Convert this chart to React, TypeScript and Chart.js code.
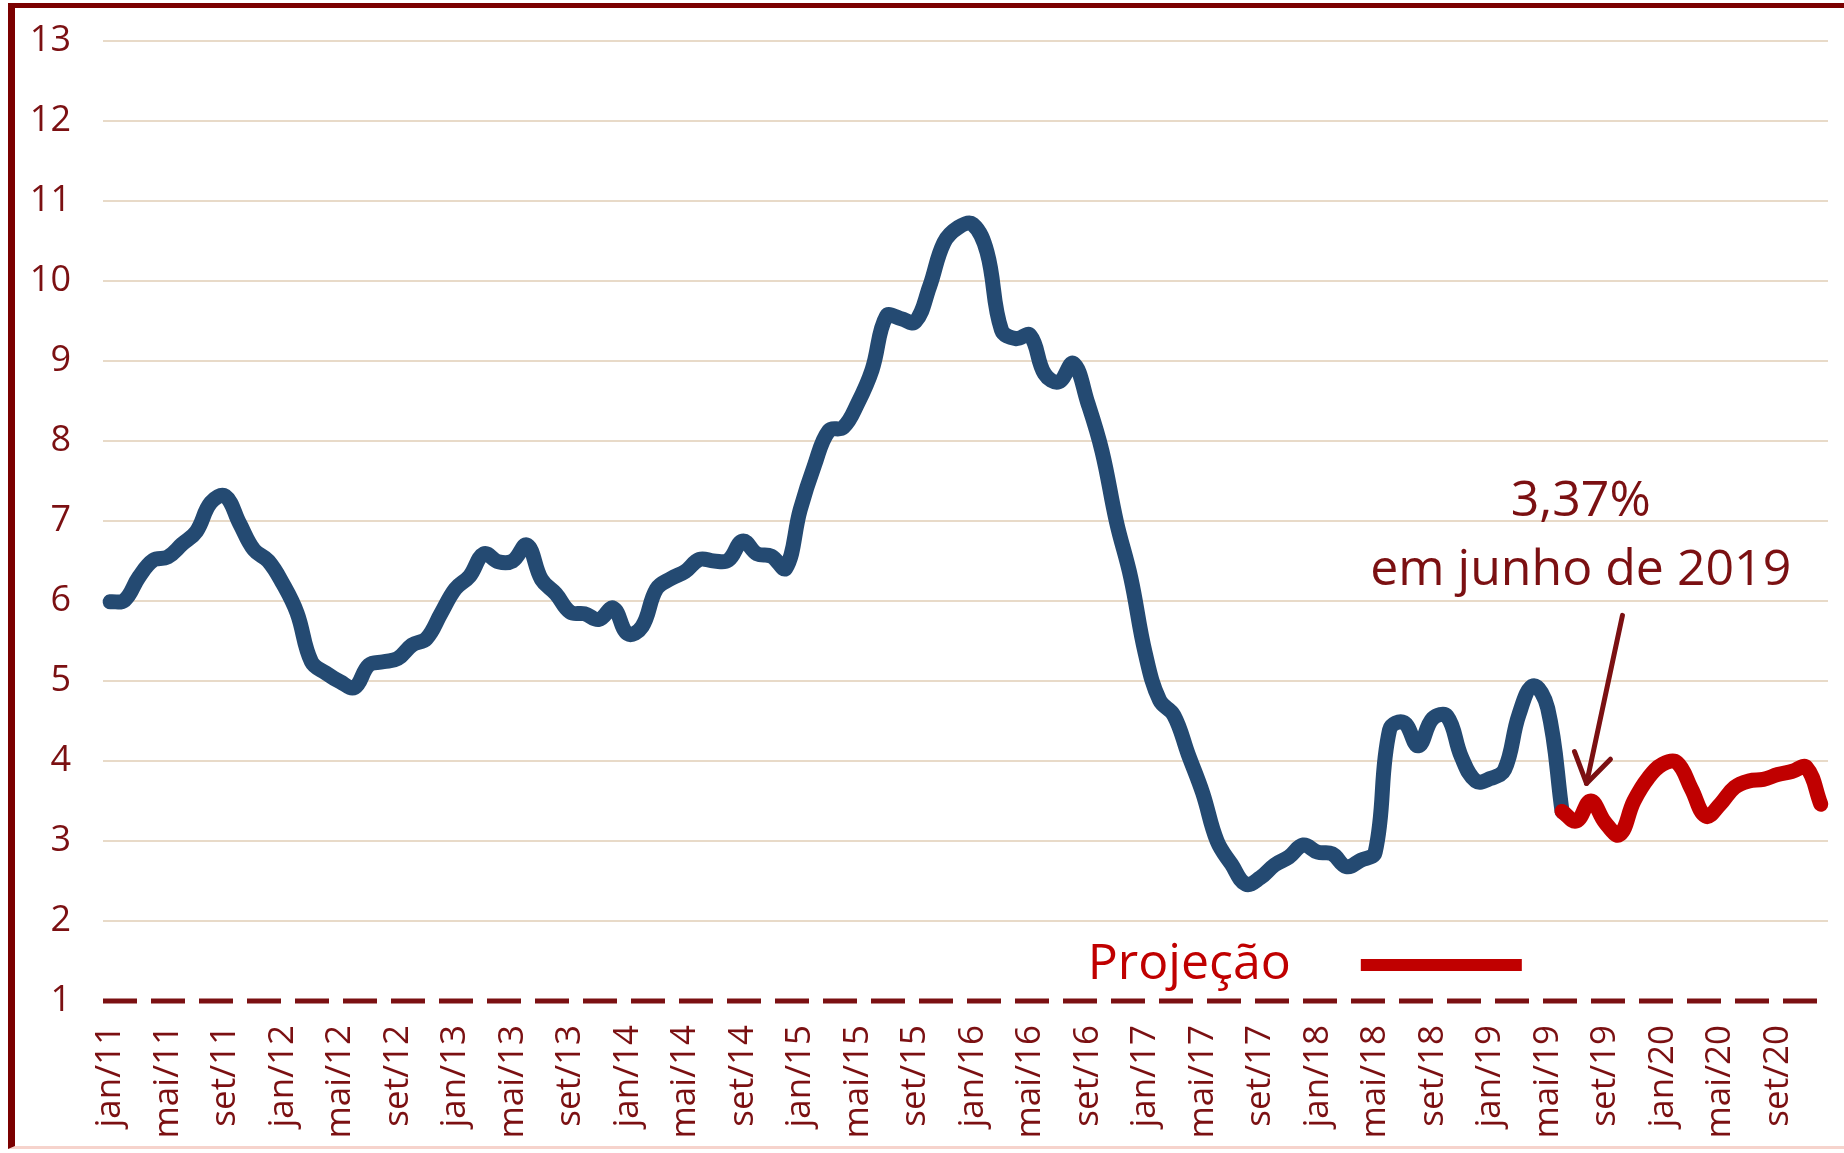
import React, { useEffect, useRef } from "react";
import { Chart, registerables } from "chart.js";

Chart.register(...registerables);

// ---- Data ----
const monthNames = ["jan", "fev", "mar", "abr", "mai", "jun", "jul", "ago", "set", "out", "nov", "dez"];
const yearSuffixes = ["11", "12", "13", "14", "15", "16", "17", "18", "19", "20"];
const categories = yearSuffixes.flatMap((y) => monthNames.map((m) => `${m}/${y}`));

// IPCA acumulado em 12 meses (%), jan/11 - jun/19
const observed = [
  5.99, 6.01, 6.30, 6.51, 6.55, 6.71, 6.87, 7.23, 7.31, 6.97, 6.64, 6.50,
  6.22, 5.85, 5.24, 5.10, 4.99, 4.92, 5.20, 5.24, 5.28, 5.45, 5.53, 5.84,
  6.15, 6.31, 6.59, 6.49, 6.50, 6.70, 6.27, 6.09, 5.86, 5.84, 5.77, 5.91,
  5.59, 5.68, 6.15, 6.28, 6.37, 6.52, 6.50, 6.51, 6.75, 6.59, 6.56, 6.41,
  7.14, 7.70, 8.13, 8.17, 8.47, 8.89, 9.56, 9.53, 9.49, 9.93, 10.48, 10.67,
  10.71, 10.36, 9.39, 9.28, 9.32, 8.84, 8.74, 8.97, 8.48, 7.87, 6.99, 6.29,
  5.35, 4.76, 4.57, 4.08, 3.60, 3.00, 2.71, 2.46, 2.54, 2.70, 2.80, 2.95,
  2.86, 2.84, 2.68, 2.76, 2.86, 4.39, 4.48, 4.19, 4.53, 4.56, 4.05, 3.75,
  3.78, 3.89, 4.58, 4.94, 4.66, 3.37,
];

// Projeção, jun/19 - dez/20
const projection = [
  3.37, 3.25, 3.50, 3.23, 3.08, 3.50, 3.79, 3.96, 3.98, 3.65,
  3.31, 3.46, 3.67, 3.75, 3.77, 3.83, 3.87, 3.92, 3.46,
];
const projectionStart = observed.length - 1;

const yMin = 1;
const yMax = 13;
const tickEvery = 4;

const annotationLines = ["3,37%", "em junho de 2019"];
const legendLabel = "Projeção";

// ---- Styles / layout ----
const BLUE = "#244a72";
const RED = "#c00000";
const DARK_RED = "#7b1012";
const GRID = "#e8dac8";
const FONT = "'Open Sans', sans-serif";

const ANNOT = {
  textIdx: 102.3,
  line1Val: 7.06,
  line2Val: 6.2,
  arrowFromIdx: 105.2,
  arrowFromVal: 5.82,
  arrowToIdx: 102.7,
  arrowToVal: 3.72,
  legendTextIdx: 68.0,
  legendTextVal: 1.27,
  legendBarFromIdx: 87.0,
  legendBarToIdx: 98.2,
  legendBarVal: 1.45,
};

const baselinePlugin = {
  id: "dashedBaseline",
  beforeDatasetsDraw(chart: any) {
    const { ctx, chartArea } = chart;
    const y = chart.scales.y.getPixelForValue(yMin);
    ctx.save();
    ctx.strokeStyle = DARK_RED;
    ctx.lineWidth = 5;
    ctx.setLineDash([34, 14]);
    ctx.beginPath();
    ctx.moveTo(chartArea.left, y);
    ctx.lineTo(chartArea.right - 10, y);
    ctx.stroke();
    ctx.restore();
  },
};

const annotationPlugin = {
  id: "annotations",
  afterDraw(chart: any) {
    const { ctx } = chart;
    const xs = chart.scales.x;
    const ys = chart.scales.y;
    const px = (i: number) => xs.getPixelForValue(i);
    const py = (v: number) => ys.getPixelForValue(v);
    ctx.save();
    // Annotation text
    ctx.fillStyle = DARK_RED;
    ctx.textAlign = "center";
    ctx.textBaseline = "alphabetic";
    ctx.font = `50px ${FONT}`;
    ctx.fillText(annotationLines[0], px(ANNOT.textIdx), py(ANNOT.line1Val));
    ctx.fillText(annotationLines[1], px(ANNOT.textIdx), py(ANNOT.line2Val));
    // Arrow
    const x0 = px(ANNOT.arrowFromIdx);
    const y0 = py(ANNOT.arrowFromVal);
    const x1 = px(ANNOT.arrowToIdx);
    const y1 = py(ANNOT.arrowToVal);
    ctx.strokeStyle = DARK_RED;
    ctx.lineWidth = 5;
    ctx.lineCap = "round";
    ctx.lineJoin = "round";
    ctx.beginPath();
    ctx.moveTo(x0, y0);
    ctx.lineTo(x1, y1);
    ctx.stroke();
    const ang = Math.atan2(y1 - y0, x1 - x0);
    const headLen = 34;
    const spread = Math.PI / 5.5;
    ctx.beginPath();
    ctx.moveTo(x1 - headLen * Math.cos(ang - spread), y1 - headLen * Math.sin(ang - spread));
    ctx.lineTo(x1, y1);
    ctx.lineTo(x1 - headLen * Math.cos(ang + spread), y1 - headLen * Math.sin(ang + spread));
    ctx.stroke();
    // Legend: Projeção
    ctx.fillStyle = RED;
    ctx.textAlign = "left";
    ctx.font = `50px ${FONT}`;
    ctx.fillText(legendLabel, px(ANNOT.legendTextIdx), py(ANNOT.legendTextVal));
    ctx.fillRect(
      px(ANNOT.legendBarFromIdx),
      py(ANNOT.legendBarVal) - 6,
      px(ANNOT.legendBarToIdx) - px(ANNOT.legendBarFromIdx),
      12
    );
    ctx.restore();
  },
};

const W = 1829;
const H = 1137;

export default function App() {
  const canvasRef = useRef<HTMLCanvasElement | null>(null);

  useEffect(() => {
    let chart: Chart | null = null;
    let cancelled = false;
    const build = () => {
      if (cancelled || !canvasRef.current) return;
      const blueData = categories.map((_, i) => (i < observed.length ? observed[i] : null));
      const redData = categories.map((_, i) =>
        i >= projectionStart && i - projectionStart < projection.length ? projection[i - projectionStart] : null
      );
      chart = new Chart(canvasRef.current, {
        type: "line",
        data: {
          labels: categories,
          datasets: [
            {
              label: "Projeção",
              data: redData,
              borderColor: RED,
              backgroundColor: RED,
              borderWidth: 15,
              pointRadius: 0,
              tension: 0.4,
              borderCapStyle: "round",
              borderJoinStyle: "round",
              spanGaps: false,
            },
            {
              label: "IPCA",
              data: blueData,
              borderColor: BLUE,
              backgroundColor: BLUE,
              borderWidth: 15,
              pointRadius: 0,
              tension: 0.4,
              borderCapStyle: "round",
              borderJoinStyle: "round",
              spanGaps: false,
            },
          ],
        },
        options: {
          responsive: false,
          animation: false,
          layout: { padding: { top: 33, right: 16, left: 0, bottom: 0 } },
          plugins: { legend: { display: false }, tooltip: { enabled: false } },
          scales: {
            x: {
              type: "category",
              offset: true,
              grid: { display: false, drawTicks: false },
              border: { display: false },
              ticks: {
                autoSkip: false,
                minRotation: 90,
                maxRotation: 90,
                padding: 24,
                color: DARK_RED,
                font: { family: FONT, size: 35 },
                callback: (_v: any, i: number) => (i % tickEvery === 0 ? categories[i] : ""),
              },
              afterFit: (s: any) => {
                s.height = 144;
                s.paddingLeft = 0;
                s.paddingRight = 0;
              },
            },
            y: {
              min: yMin,
              max: yMax,
              grid: {
                drawTicks: false,
                lineWidth: 2,
                color: (c: any) => (c.tick && c.tick.value === yMin ? "rgba(0,0,0,0)" : GRID),
              },
              border: { display: false },
              ticks: {
                stepSize: 1,
                padding: 32,
                color: DARK_RED,
                font: { family: FONT, size: 36 },
              },
              afterFit: (s: any) => {
                s.width = 88;
                s.paddingTop = 0;
                s.paddingBottom = 0;
              },
            },
          },
        },
        plugins: [baselinePlugin, annotationPlugin],
      });
    };
    const fonts: any = (document as any).fonts;
    if (fonts && fonts.load) {
      Promise.all([fonts.load(`35px 'Open Sans'`), fonts.load(`50px 'Open Sans'`)]).then(build, build);
    } else {
      build();
    }
    return () => {
      cancelled = true;
      if (chart) chart.destroy();
    };
  }, []);

  return (
    <div
      style={{
        position: "fixed",
        left: 0,
        top: 0,
        width: 1844,
        height: 1153,
        overflow: "hidden",
        background: "#ffffff",
      }}
    >
      <div
        style={{
          position: "absolute",
          left: 8,
          top: 3,
          width: 1900,
          height: 1146,
          boxSizing: "border-box",
          borderLeft: "7px solid #7b0000",
          borderTop: "5px solid #7b0000",
          borderBottom: "3px solid #f6d3cc",
          background: "#ffffff",
        }}
      />
      <canvas
        ref={canvasRef}
        width={W}
        height={H}
        style={{ position: "absolute", left: 15, top: 8, width: W, height: H }}
      />
    </div>
  );
}
